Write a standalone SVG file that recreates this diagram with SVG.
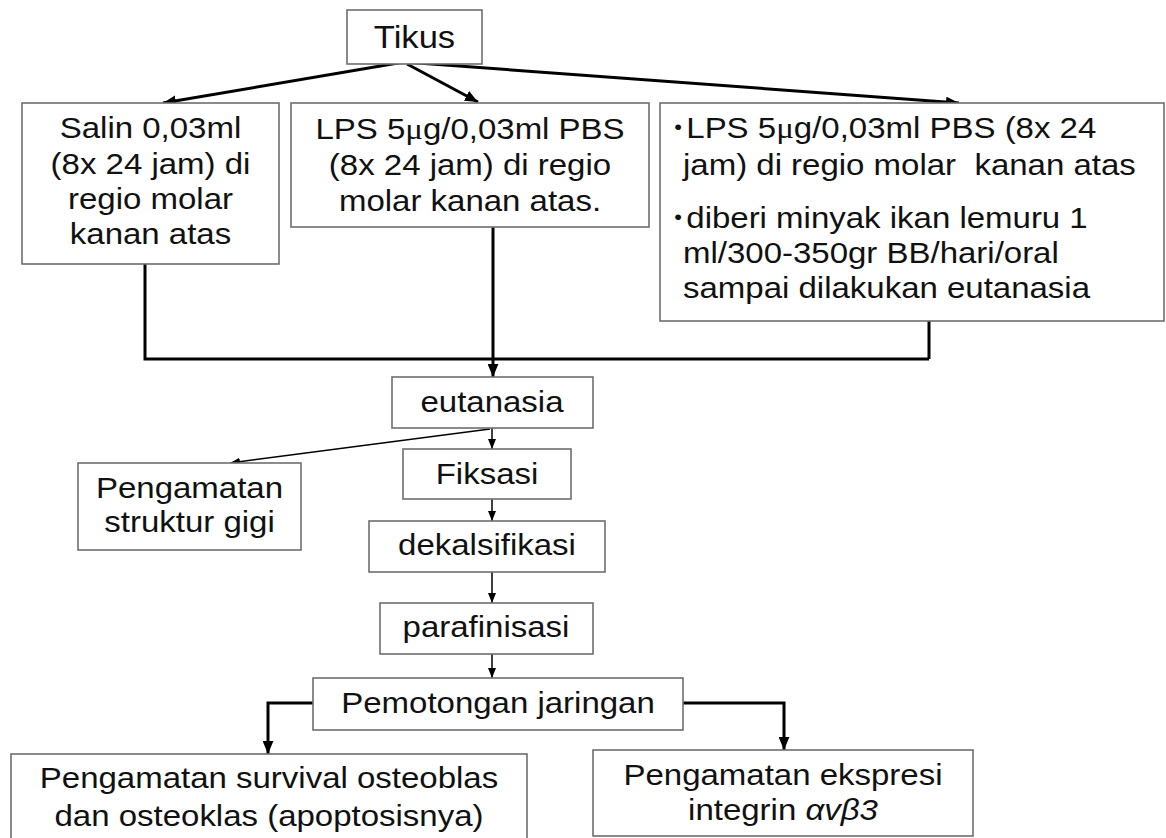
<svg xmlns="http://www.w3.org/2000/svg" width="1166" height="838" viewBox="0 0 1166 838">
<defs>
<style>
.box{fill:#fff;stroke:#6e6e6e;stroke-width:1.6}
.t{font-family:"Liberation Sans",Arial,sans-serif;font-size:30px;fill:#111}
.c{text-anchor:middle}
.b{font-size:20px}
.thick{fill:none;stroke:#000;stroke-width:3}
.thin{fill:none;stroke:#000;stroke-width:1.5}
</style>
<marker id="ah" viewBox="0 0 12 10" refX="12" refY="5" markerWidth="13" markerHeight="11" markerUnits="userSpaceOnUse" orient="auto"><path d="M0,0 L12,5 L0,10 z" fill="#000"/></marker>
<marker id="as" viewBox="0 0 10 8" refX="10" refY="4" markerWidth="10" markerHeight="9" markerUnits="userSpaceOnUse" orient="auto"><path d="M0,0 L10,4 L0,8 z" fill="#000"/></marker>
</defs>
<rect width="1166" height="838" fill="#fff"/>

<g id="connectors">
<path class="thick" d="M404,62 L163,103" marker-end="url(#ah)"/>
<path class="thick" d="M407,64 L478,102" marker-end="url(#ah)"/>
<path class="thick" d="M404,62 L959,103" marker-end="url(#ah)"/>
<path class="thick" d="M145,264 L145,359 L929,359 M929,321 L929,359"/>
<path class="thick" d="M493,227 L493,377" marker-end="url(#ah)"/>
<path class="thin" d="M490,429 L230,463" marker-end="url(#as)"/>
<path class="thin" d="M492,428 L492,449" marker-end="url(#as)"/>
<path class="thin" d="M492,499 L492,521" marker-end="url(#as)"/>
<path class="thin" d="M492,572 L492,603" marker-end="url(#as)"/>
<path class="thin" d="M492,654 L492,678" marker-end="url(#as)"/>
<path class="thick" d="M313,703 L268,703 L268,754" marker-end="url(#ah)"/>
<path class="thick" d="M683,703 L784,703 L784,750" marker-end="url(#ah)"/>
</g>

<g id="tikus">
<rect class="box" x="347" y="10" width="135" height="54"/>
<text class="t c" transform="translate(414.5 0) scale(1.08 1)" x="0" y="48" style="font-size:32px">Tikus</text>
</g>

<g id="salin">
<rect class="box" x="22" y="103" width="257" height="161"/>
<g class="t c" transform="translate(150.5 0) scale(1.1 1)">
<text x="0" y="138">Salin 0,03ml</text>
<text x="0" y="174">(8x 24 jam) di</text>
<text x="0" y="209">regio molar</text>
<text x="0" y="244">kanan atas</text>
</g>
</g>

<g id="lps">
<rect class="box" x="291" y="103" width="358" height="124"/>
<g class="t c" transform="translate(470 0) scale(1.1 1)">
<text x="0" y="139">LPS 5<tspan font-family="Liberation Serif,serif">μ</tspan>g/0,03ml PBS</text>
<text x="0" y="175">(8x 24 jam) di regio</text>
<text x="0" y="211">molar kanan atas.</text>
</g>
</g>

<g id="lps-minyak">
<rect class="box" x="660" y="103" width="504" height="218"/>
<g class="t" transform="translate(683 0) scale(1.1 1)">
<text class="b" x="-8" y="134">•</text>
<text x="3" y="138">LPS 5<tspan font-family="Liberation Serif,serif">μ</tspan>g/0,03ml PBS (8x 24</text>
<text x="0" y="175">jam) di regio molar&#160; kanan atas</text>
<text class="b" x="-8" y="224">•</text>
<text x="3" y="228">diberi minyak ikan lemuru 1</text>
<text x="0" y="263">ml/300-350gr BB/hari/oral</text>
<text x="0" y="298">sampai dilakukan eutanasia</text>
</g>
</g>

<g id="eutanasia">
<rect class="box" x="392" y="377" width="201" height="51"/>
<text class="t c" transform="translate(492 0) scale(1.1 1)" x="0" y="412">eutanasia</text>
</g>

<g id="struktur-gigi">
<rect class="box" x="78" y="463" width="223" height="87"/>
<g class="t c" transform="translate(189.5 0) scale(1.1 1)">
<text x="0" y="498">Pengamatan</text>
<text x="0" y="532">struktur gigi</text>
</g>
</g>

<g id="fiksasi">
<rect class="box" x="403" y="449" width="168" height="50"/>
<text class="t c" transform="translate(487 0) scale(1.1 1)" x="0" y="484">Fiksasi</text>
</g>

<g id="dekalsifikasi">
<rect class="box" x="369" y="521" width="236" height="51"/>
<text class="t c" transform="translate(487 0) scale(1.1 1)" x="0" y="555">dekalsifikasi</text>
</g>

<g id="parafinisasi">
<rect class="box" x="380" y="603" width="213" height="51"/>
<text class="t c" transform="translate(486 0) scale(1.1 1)" x="0" y="637">parafinisasi</text>
</g>

<g id="pemotongan">
<rect class="box" x="313" y="678" width="370" height="52"/>
<text class="t c" transform="translate(498 0) scale(1.1 1)" x="0" y="713">Pemotongan jaringan</text>
</g>

<g id="osteoblas">
<rect class="box" x="11" y="754" width="516" height="100"/>
<g class="t c" transform="translate(269 0) scale(1.1 1)">
<text x="0" y="788">Pengamatan survival osteoblas</text>
<text x="0" y="826">dan osteoklas (apoptosisnya)</text>
</g>
</g>

<g id="integrin">
<rect class="box" x="593" y="750" width="380" height="86"/>
<g class="t c" transform="translate(783 0) scale(1.1 1)">
<text x="0" y="785">Pengamatan ekspresi</text>
<text x="0" y="820">integrin <tspan font-style="italic">αvβ3</tspan></text>
</g>
</g>
</svg>
